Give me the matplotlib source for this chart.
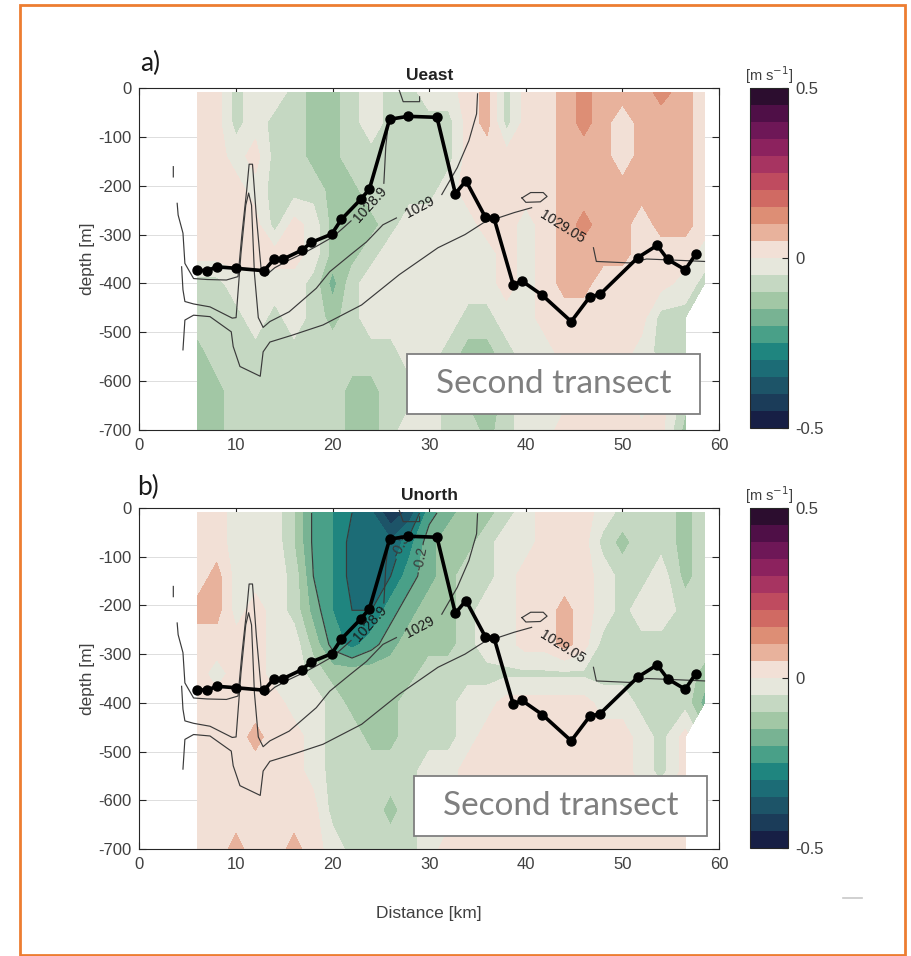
import numpy as np
import matplotlib.pyplot as plt
from matplotlib.colors import ListedColormap
from matplotlib.patches import Rectangle
from matplotlib.lines import Line2D

plt.rcParams['font.family'] = ['Liberation Sans', 'DejaVu Sans']
plt.rcParams['axes.unicode_minus'] = False

# ---- section grid ----
dist_km = [6, 8, 10, 12, 14, 16, 18, 20, 22, 24, 26, 28, 30, 32, 34, 36, 38,
           40, 42, 44, 46, 48, 50, 52, 54, 56.5, 58.5]
depth_m = [-10, -70, -140, -210, -280, -340, -400, -470, -540, -620, -700]

nan = np.nan

# eastward velocity [m/s], one list per station column, surface -> bottom
ueast_cols = [
    [.02, .02, .02, .02, .02, .02, -.07, -.07, -.12, -.12, -.12],
    [.02, .02, .02, .02, .02, .02, -.07, -.07, -.07, -.12, -.12],
    [-.07, -.07, -.02, .02, .02, .02, -.02, -.07, -.07, -.07, -.07],
    [-.02, -.02, .02, -.02, .02, .02, -.02, -.02, -.07, -.07, -.07],
    [-.02, -.07, -.07, -.07, -.07, .02, -.02, -.07, -.07, -.07, -.07],
    [-.07, -.07, -.07, -.07, .02, .02, -.02, -.02, -.07, -.07, -.07],
    [-.12, -.12, -.12, -.07, -.02, -.02, -.07, -.07, -.07, -.07, -.07],
    [-.12, -.12, -.12, -.12, -.12, -.12, -.17, -.12, -.07, -.07, -.07],
    [-.07, -.07, -.07, -.12, -.12, -.12, -.07, -.07, -.07, -.12, -.12],
    [-.02, -.02, -.07, -.07, -.12, -.07, -.02, -.02, -.07, -.12, -.12],
    [-.07, -.07, -.07, -.07, -.07, -.02, -.02, -.02, -.07, -.07, -.07],
    [-.07, -.07, -.07, -.07, -.02, -.02, -.02, -.02, -.02, -.07, -.02],
    [-.02, -.07, -.07, -.07, -.02, -.02, -.02, -.02, -.02, -.02, -.02],
    [-.02, -.07, -.07, -.02, -.02, -.02, -.02, -.02, -.07, -.07, -.07],
    [.02, .02, .02, .02, -.02, -.02, -.02, -.07, -.12, -.12, -.07],
    [.07, .07, .02, .02, .02, -.02, -.02, -.07, -.12, -.17, -.12],
    [-.07, -.07, .02, .02, .02, .02, .02, -.02, -.07, -.07, -.07],
    [.02, .02, .02, .02, -.02, -.02, -.02, -.02, -.02, -.02, -.02],
    [.02, .02, .02, .02, .02, .02, .02, .02, -.02, -.02, -.02],
    [.07, .07, .07, .07, .07, .07, .07, .02, .02, -.02, .02],
    [.12, .12, .07, .07, .12, .07, .07, .02, .02, .02, .02],
    [.07, .07, .07, .07, .07, .07, .02, .02, .02, .02, .02],
    [.07, .02, .02, .07, .07, .07, .02, .02, .02, .02, .02],
    [.07, .07, .07, .07, .02, .02, .02, .02, -.02, -.07, .02],
    [.12, .07, .07, .07, .07, .02, .02, -.07, -.07, .02, .02],
    [.07, .07, .07, .07, .07, .02, -.02, -.07, -.07, -.07, -.12],
    [.02, .02, .02, .02, .02, -.02, -.07, nan, nan, nan, nan],
]

# northward velocity [m/s], same layout
unorth_cols = [
    [.02, .02, .02, .07, .02, .02, .02, .02, .02, .02, .02],
    [.02, .02, .07, .07, .02, -.02, .02, .02, .02, .02, .02],
    [-.02, -.02, -.02, -.02, .02, .02, .02, .02, .02, .02, .07],
    [-.02, -.02, -.02, .02, .02, .02, .02, .07, .02, .02, .02],
    [-.02, -.02, -.02, -.02, -.02, -.02, .02, .02, .02, .02, .02],
    [-.10, -.10, -.07, -.07, -.02, -.02, -.02, .02, .02, .02, .07],
    [-.21, -.21, -.20, -.17, -.12, -.07, -.02, -.02, -.02, .02, .02],
    [-.25, -.25, -.25, -.25, -.22, -.12, -.07, -.07, -.07, -.07, -.02],
    [-.30, -.32, -.32, -.30, -.27, -.12, -.12, -.07, -.07, -.07, -.07],
    [-.34, -.34, -.33, -.30, -.22, -.12, -.12, -.12, -.07, -.07, -.07],
    [-.44, -.34, -.30, -.22, -.17, -.12, -.12, -.12, -.07, -.12, -.07],
    [-.38, -.27, -.22, -.17, -.12, -.12, -.07, -.07, -.07, -.07, -.07],
    [-.22, -.17, -.17, -.12, -.12, -.07, -.07, -.07, -.02, -.02, -.02],
    [-.17, -.12, -.12, -.12, -.12, -.07, -.07, -.07, -.02, -.02, .02],
    [-.12, -.12, -.07, -.07, -.07, -.07, -.02, -.02, .02, .02, .02],
    [-.12, -.07, -.07, -.02, -.02, -.07, -.02, .02, .02, .02, .02],
    [-.07, -.02, -.02, -.02, -.02, -.06, .02, .02, .02, .02, .02],
    [-.02, -.02, .02, .02, .02, -.06, .02, .02, .02, .02, .02],
    [.02, .02, .02, .02, .02, -.06, .02, .02, .02, .02, .02],
    [.02, .02, .02, .07, .07, -.06, .02, .02, .02, .02, .02],
    [.02, .02, .02, .02, .02, -.06, .02, .02, .02, .02, .02],
    [-.02, -.07, -.02, -.02, -.07, -.07, -.02, .02, .02, .02, .02],
    [-.07, -.12, -.07, -.07, -.07, -.07, -.02, .02, .02, .02, .02],
    [-.07, -.07, -.07, -.02, -.07, -.07, -.07, -.02, -.02, .02, .02],
    [-.07, -.07, -.02, -.02, -.07, -.07, -.07, -.07, -.07, .02, .02],
    [-.12, -.12, -.12, -.07, -.07, -.07, -.07, .02, .02, .02, .02],
    [-.07, -.07, -.07, -.07, -.07, -.12, -.17, nan, nan, nan, nan],
]

# bottom track along the transect
bathy_x = [6.0, 7.0, 8.0, 10.0, 12.9, 13.9, 14.9, 16.8, 17.8, 19.9, 20.9, 22.9,
           23.8, 25.9, 27.8, 30.8, 32.7, 33.8, 35.8, 36.7, 38.7, 39.6, 41.7,
           44.7, 46.6, 47.7, 51.6, 53.6, 54.7, 56.5, 57.6]
bathy_z = [-373, -374, -366, -369, -374, -351, -350, -332, -316, -299, -269,
           -228, -207, -64, -58, -60, -216, -190, -264, -266, -403, -395, -424,
           -478, -428, -422, -347, -322, -351, -372, -340]

# isopycnals (nan breaks the line where the label sits)
rho289_x = [3.9, 4.0, 4.5, 4.7, 5.6, 7.0, 9.0, 10.2, 10.6, 11.1, 11.35, 11.7,
            12.1, 12.6, 13.0, 14.0, 15.5, 17.0, 18.5, 20.0, 21.0, 21.9, nan,
            25.3, 25.5, 25.8, nan, 26.9, 27.3, 29.0, 29.0, nan, 3.5, 3.5]
rho289_z = [-236, -260, -297, -359, -390, -392, -393, -386, -300, -209, -156,
            -156, -263, -372, -385, -368, -352, -338, -322, -305, -288, -272,
            nan, -195, -120, -65, nan, -5, -28, -28, -18, nan, -161, -182]
rho290_x = [4.36, 4.5, 4.7, 5.6, 7.3, 9.0, 9.6, 10.0, 10.5, 11.0, 11.3, 11.6,
            11.9, 12.3, 12.8, 13.5, 15.5, 18.3, 19.7, 21.8, 23.5, 25.2, 26.6,
            nan, 31.3, 32.9, 34.1, 34.9, 35.0]
rho290_z = [-366, -413, -437, -442, -448, -465, -471, -470, -340, -240, -215,
            -240, -380, -470, -490, -478, -458, -410, -376, -342, -315, -280,
            -266, nan, -218, -163, -108, -53, -12]
rho2905_x = [4.5, 4.7, 5.6, 7.3, 9.0, 9.5, 9.7, 10.4, 12.5, 12.8, 13.5, 15.8,
             19.0, 23.0, 26.9, 30.9, 33.7, 35.6, 38.8, 40.6, nan, 47.0, 47.3,
             50.7, 52.5, 55.0, 58.5, nan, 39.6, 40.5, 41.8, 42.2, 41.5, 40.0,
             39.6]
rho2905_z = [-536, -475, -465, -468, -492, -499, -529, -570, -590, -540, -520,
             -506, -485, -444, -382, -327, -300, -276, -255, -245, nan, -327,
             -355, -358, -350, -352, -355, nan, -225, -214, -214, -222, -233,
             -234, -225]

rho_labels = ['1028.9', '1029', '1029.05']
rho_label_x = [23.9, 29.0, 43.8]
rho_label_z = [-238, -245, -285]
rho_label_rot = [48, 28, -32]

# velocity levels and a curl-like palette, most negative first
vel_levels = np.linspace(-0.5, 0.5, 21)
curl_colors = ['#171f45', '#1b3c59', '#1d5468', '#1c6c76', '#1f857f',
               '#49a088', '#78b393', '#a2c7a5', '#c5d8c2', '#e6e7dc',
               '#f2e0d6', '#e8b29c', '#dd8e75', '#d06a63', '#bf4b5f',
               '#a73461', '#8c225e', '#6e1757', '#4f0f47', '#2c0d2f']
cmap = ListedColormap(curl_colors)

W, H = 912, 956
fig = plt.figure(figsize=(W / 100, H / 100), dpi=100)
fig.patch.set_facecolor('white')

axis_col = '#262626'
tick_col = '#404040'
line_col = '#3a3a3a'


def px_box(x0, y0, x1, y1):
    # pixel box (top-left origin) -> figure fraction rect
    return [x0 / W, 1 - y1 / H, (x1 - x0) / W, (y1 - y0) / H]


def draw_panel(ax, cax, cols, title, tag, tag_xy, vel_contours=False):
    X, Z = np.meshgrid(dist_km, depth_m)
    field = np.ma.masked_invalid(np.array(cols, dtype=float).T)
    ax.set_axisbelow(True)
    ax.grid(True, color='#dddddd', lw=0.7)
    cf = ax.contourf(X, Z, field, levels=vel_levels, cmap=cmap,
                     vmin=-0.5, vmax=0.5, zorder=1)

    if vel_contours:
        cs = ax.contour(X, Z, field, levels=[-0.3, -0.2], colors=line_col,
                        linewidths=0.85, linestyles='solid', zorder=2)
        ax.clabel(cs, fmt='%g', fontsize=10, inline=True, inline_spacing=2,
                  manual=[(27.3, -80), (29.3, -105)])

    for xs, zs in [(rho289_x, rho289_z), (rho290_x, rho290_z),
                   (rho2905_x, rho2905_z)]:
        ax.plot(xs, zs, color=line_col, lw=0.85, zorder=3)
    for txt, lx, lz, rot in zip(rho_labels, rho_label_x, rho_label_z,
                                rho_label_rot):
        ax.text(lx, lz, txt, rotation=rot, ha='center', va='center',
                fontsize=10, color='#1a1a1a', zorder=6,
                rotation_mode='anchor')

    ax.plot(bathy_x, bathy_z, '-o', color='black', lw=2.6, ms=6.5, zorder=5)

    ax.set_xlim(0, 60)
    ax.set_ylim(-700, 0)
    ax.set_xticks(range(0, 61, 10))
    ax.set_yticks(range(-700, 1, 100))
    ax.tick_params(direction='in', length=5, width=0.8, top=True, right=True,
                   labelsize=12, colors=axis_col, labelcolor=tick_col, pad=6)
    for s in ax.spines.values():
        s.set_color(axis_col)
        s.set_linewidth(0.8)
    ax.set_ylabel('depth [m]', fontsize=12.5, color=tick_col, labelpad=2)
    ax.set_title(title, fontsize=12.5, fontweight='bold', color='#222222',
                 pad=6)
    fig.text(tag_xy[0] / W, 1 - tag_xy[1] / H, tag, fontsize=19,
             family=['Lato', 'DejaVu Sans'], ha='center', va='center',
             color='#1a1a1a')

    cb = fig.colorbar(cf, cax=cax, ticks=[-0.5, 0, 0.5])
    cb.ax.set_yticklabels(['-0.5', '0', '0.5'])
    cb.ax.tick_params(direction='in', length=4, width=0.8, labelsize=12,
                      colors=axis_col, labelcolor=tick_col, pad=5)
    cb.outline.set_edgecolor(axis_col)
    cb.outline.set_linewidth(0.8)
    cax.text(0.5, 1.006, r'[m s$^{-1}$]', transform=cax.transAxes,
             ha='center', va='bottom', fontsize=10.5, color=tick_col)
    return cf


ax_a = fig.add_axes(px_box(139.5, 88, 719, 430))
cax_a = fig.add_axes(px_box(750, 88, 788, 428))
ax_b = fig.add_axes(px_box(139.5, 508, 719, 849))
cax_b = fig.add_axes(px_box(750, 508, 788, 848))

draw_panel(ax_a, cax_a, ueast_cols, 'Ueast', 'a)', (150, 63))
draw_panel(ax_b, cax_b, unorth_cols, 'Unorth', 'b)', (148, 487),
           vel_contours=True)
ax_b.set_xlabel('Distance [km]', fontsize=12.5, color=tick_col, labelpad=24)

# transect annotation boxes
for (x0, y0, x1, y1) in [(407, 354, 700, 414), (414, 776, 707, 836)]:
    r = px_box(x0, y0, x1, y1)
    fig.add_artist(Rectangle((r[0], r[1]), r[2], r[3],
                             transform=fig.transFigure, facecolor='white',
                             edgecolor='#7f7f7f', lw=1.3, zorder=5))
    fig.text((x0 + x1) / 2 / W, 1 - (y0 + y1) / 2 / H, 'Second transect',
             ha='center', va='center', fontsize=24, color='#7f7f7f',
             family=['Lato', 'DejaVu Sans'], zorder=6)

# small stray dash near the lower right
fig.add_artist(Line2D([843 / W, 862 / W], [1 - 898 / H, 1 - 898 / H],
                      transform=fig.transFigure, color='#c8c8c8', lw=1.2))

# orange slide frame
fig.add_artist(Rectangle((20 / W, 1 - 955 / H), 885 / W, 950 / H,
                         transform=fig.transFigure, facecolor='none',
                         edgecolor='#ed7d31', lw=2, zorder=10))

fig.savefig('out.png', dpi=100)
